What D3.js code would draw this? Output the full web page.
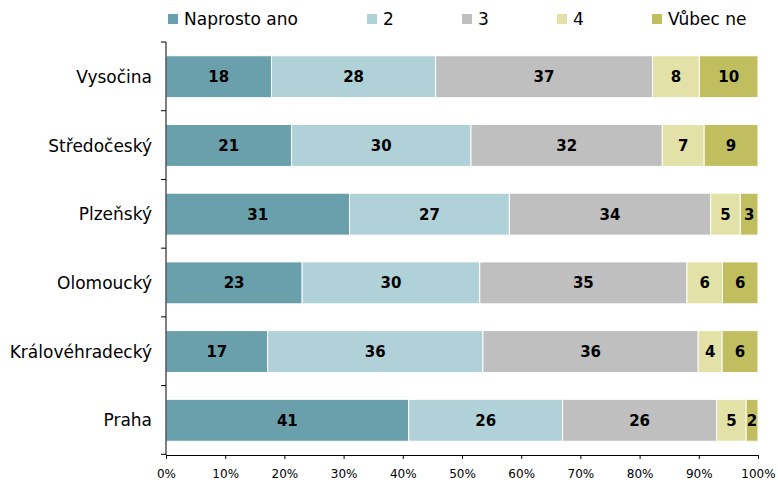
<!DOCTYPE html>
<html>
<head>
<meta charset="utf-8">
<script src="https://cdn.jsdelivr.net/npm/d3@7"></script>
<style>
  html, body { margin: 0; padding: 0; background: #fff; }
  svg { display: block; font-family: "DejaVu Sans", Verdana, sans-serif; }
</style>
</head>
<body>
<svg id="chart" width="778" height="482"></svg>
<script>
// Regions (top to bottom) and answer shares in percent
const regions = ["Vysočina", "Středočeský", "Plzeňský", "Olomoucký", "Královéhradecký", "Praha"];
const seriesNames = ["Naprosto ano", "2", "3", "4", "Vůbec ne"];
const naprostoAno = [18, 21, 31, 23, 17, 41];
const odpoved2   = [28, 30, 27, 30, 36, 26];
const odpoved3   = [37, 32, 34, 35, 36, 26];
const odpoved4   = [8, 7, 5, 6, 4, 5];
const vubecNe    = [10, 9, 3, 6, 6, 2];
const xTicks = [0, 0.1, 0.2, 0.3, 0.4, 0.5, 0.6, 0.7, 0.8, 0.9, 1];

const colors = ["#6a9fac", "#b0d1d8", "#bfbfbf", "#e2e2a8", "#c1be5f"];
const legendX = [168, 367, 462, 557, 652];

const seriesValues = [naprostoAno, odpoved2, odpoved3, odpoved4, vubecNe];
const rows = regions.map((r, i) => {
  const o = { region: r };
  seriesNames.forEach((s, j) => { o[s] = seriesValues[j][i]; });
  return o;
});

const stack = d3.stack().keys(seriesNames).offset(d3.stackOffsetExpand);
const layers = stack(rows);

const svg = d3.select("#chart");
const plotLeft = 166, plotRight = 758, plotTop = 42, plotBottom = 455;

const x = d3.scaleLinear().domain([0, 1]).range([plotLeft, plotRight]);
const y = d3.scaleBand().domain(regions).range([plotTop, plotBottom])
  .paddingInner(0.39).paddingOuter(0.2);

// Stacked segments
const g = svg.append("g");
layers.forEach((layer, li) => {
  const lg = g.append("g").attr("fill", colors[li]);
  lg.selectAll("rect").data(layer).join("rect")
    .attr("x", d => x(d[0]))
    .attr("y", d => y(d.data.region))
    .attr("width", d => x(d[1]) - x(d[0]))
    .attr("height", y.bandwidth())
    .attr("stroke", "#ffffff")
    .attr("stroke-width", 1);
  lg.selectAll("text").data(layer).join("text")
    .attr("x", d => (x(d[0]) + x(d[1])) / 2)
    .attr("y", d => y(d.data.region) + y.bandwidth() / 2)
    .attr("dy", "0.36em")
    .attr("text-anchor", "middle")
    .attr("font-size", 15)
    .attr("font-weight", "bold")
    .attr("fill", "#000")
    .text(d => d.data[layer.key]);
});

// Y axis: line with tick marks on the band boundaries
const yAxis = svg.append("g");
yAxis.append("line")
  .attr("x1", plotLeft).attr("x2", plotLeft)
  .attr("y1", plotTop).attr("y2", plotBottom)
  .attr("stroke", "#000");
const boundaries = d3.range(regions.length + 1).map(i => plotTop + i * y.step());
yAxis.selectAll("line.tick").data(boundaries).join("line")
  .attr("class", "tick")
  .attr("x1", plotLeft - 5).attr("x2", plotLeft)
  .attr("y1", d => d).attr("y2", d => d)
  .attr("stroke", "#000");
yAxis.selectAll("text").data(regions).join("text")
  .attr("x", plotLeft - 14)
  .attr("y", d => y(d) + y.bandwidth() / 2)
  .attr("dy", "0.36em")
  .attr("text-anchor", "end")
  .attr("font-size", 17)
  .attr("fill", "#000")
  .text(d => d);

// X axis
const xAxis = svg.append("g")
  .attr("transform", `translate(0,${plotBottom})`)
  .call(d3.axisBottom(x).tickValues(xTicks).tickFormat(d3.format(".0%")).tickSizeOuter(0).tickSize(4).tickPadding(10));
xAxis.select(".domain").attr("stroke", "#000");
xAxis.selectAll(".tick line").attr("stroke", "#000");
xAxis.selectAll(".tick text")
  .attr("font-size", 12)
  .attr("font-family", "DejaVu Sans, Verdana, sans-serif")
  .attr("fill", "#000");

// Legend
const legend = svg.append("g");
seriesNames.forEach((s, i) => {
  const item = legend.append("g").attr("transform", `translate(${legendX[i]},19)`);
  item.append("rect").attr("x", 0).attr("y", -5).attr("width", 10).attr("height", 10).attr("fill", colors[i]);
  item.append("text").attr("x", 16).attr("y", 0).attr("dy", "0.36em")
    .attr("font-size", 17).attr("fill", "#000").text(s);
});
</script>
</body>
</html>
